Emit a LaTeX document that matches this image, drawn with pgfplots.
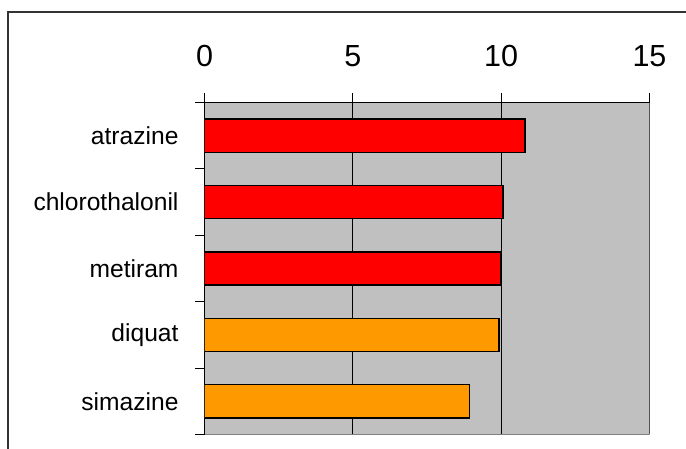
\documentclass[border=0pt]{standalone}
\usepackage{fontspec}
\setmainfont{Liberation Sans}
\usepackage{pgfplots}
\pgfplotsset{compat=1.18}
\definecolor{plotgray}{HTML}{C0C0C0}
\definecolor{edgegray}{HTML}{808080}
\definecolor{barred}{HTML}{FF0000}
\definecolor{barorange}{HTML}{FF9900}
\definecolor{framegray}{HTML}{333333}
\begin{document}
\begin{tikzpicture}
\useasboundingbox (0,0) rectangle (686pt,449pt);
\draw[framegray, line width=2pt] (8pt,0pt) -- (8pt,437pt) -- (686pt,437pt);
\begin{axis}[
  at={(204.5pt,14.5pt)}, anchor=south west,
  scale only axis, width=445pt, height=332pt,
  xmin=0, xmax=15, ymin=-0.5, ymax=4.5, y dir=reverse,
  axis x line*=top, axis y line*=left,
  axis line style={-, black, line width=0.9pt},
  axis background/.style={fill=plotgray},
  xtick={0,5,10,15},
  xmajorgrids, grid style={black, line width=0.9pt},
  tick align=outside,
  major tick length=9.5pt,
  every tick/.style={black, line width=0.9pt},
  ytick={-0.5,0.5,1.5,2.5,3.5,4.5},
  yticklabels={},
  extra y ticks={0,1,2,3,4},
  extra y tick labels={atrazine,chlorothalonil,metiram,diquat,simazine},
  extra y tick style={y tick style={draw=none}, ymajorgrids=false},
  /pgf/number format/assume math mode=true,
  xticklabel style={font=\fontsize{30.5}{36}\selectfont, yshift=23pt},
  yticklabel style={font=\fontsize{24.6}{29}\selectfont, xshift=-13pt},
  xbar, bar width=0.5, bar shift=0pt,
]
\addplot[draw=black, line width=1.5pt, fill=barred] coordinates {(10.80,0) (10.07,1) (10.0,2)};
\addplot[draw=black, line width=1.5pt, fill=barorange] coordinates {(9.93,3) (8.93,4)};
\draw[edgegray, line width=1.6pt] (axis cs:15,-0.5) -- (axis cs:15,4.5) -- (axis cs:0,4.5);
\end{axis}
\end{tikzpicture}
\end{document}
